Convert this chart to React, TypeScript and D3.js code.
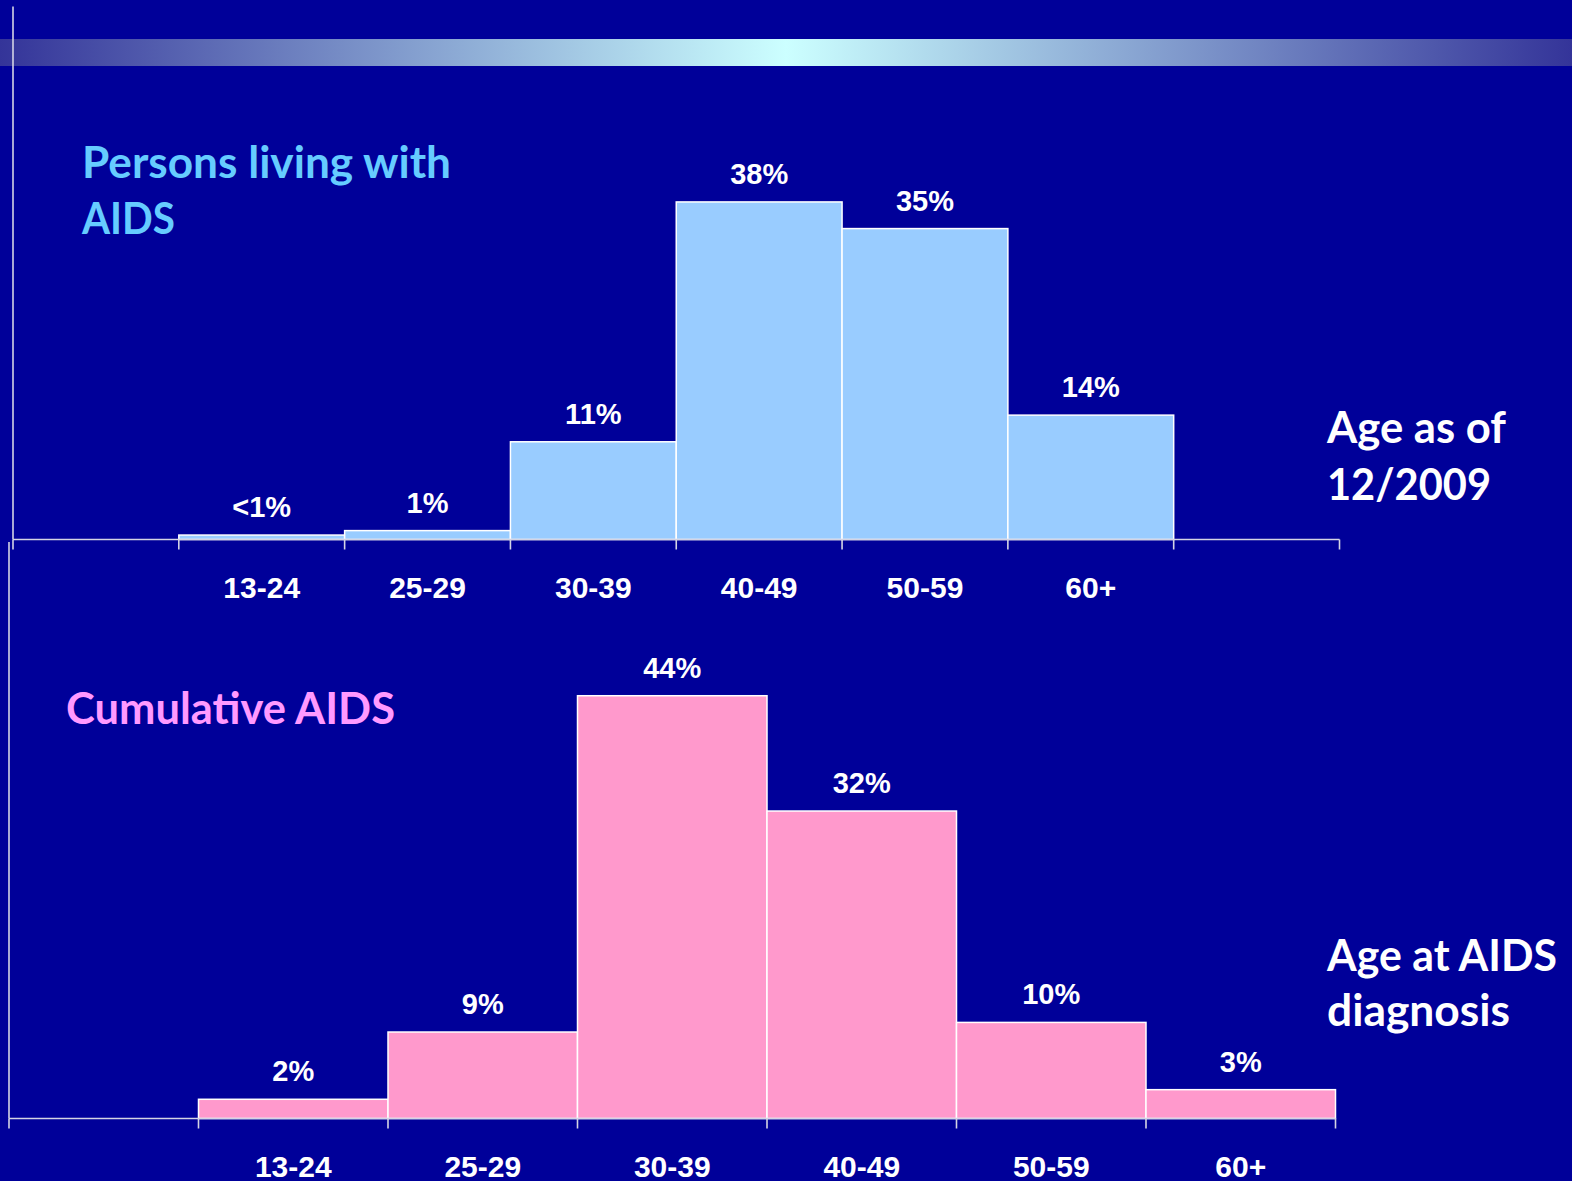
import React from 'react';
import { scaleBand, scaleLinear } from 'd3';

const ageGroups = ['13-24', '25-29', '30-39', '40-49', '50-59', '60+'];

// persons living with AIDS, age as of 12/2009
const livingValues = [0.5, 1, 11, 38, 35, 14];
const livingLabels = ['<1%', '1%', '11%', '38%', '35%', '14%'];

// cumulative AIDS, age at diagnosis
const cumulativeValues = [2, 9, 44, 32, 10, 3];
const cumulativeLabels = ['2%', '9%', '44%', '32%', '10%', '3%'];

const W = 1572;
const H = 1181;

const BG = '#000099';
const AXIS = '#d4d4e4';
const calibri = 'Lato, Carlito, Calibri, "Open Sans", sans-serif';
const arial = '"Liberation Sans", Arial, Helvetica, sans-serif';

type PanelProps = {
  values: number[]
  labels: string[]
  bands: string[]
  x0: number
  x1: number
  base: number
  top: number
  fill: string
}

function Panel({ values, labels, bands, x0, x1, base, top, fill }: PanelProps) {
  const x = scaleBand().domain(bands).range([x0, x1]).paddingInner(0).paddingOuter(0);
  const y = scaleLinear().domain([0, 60]).range([base, top]);
  const edges = [...bands.map(b => x(b)!), x1];
  return (
    <g>
      {ageGroups.map((g, i) => (
        <rect
          key={g}
          x={x(g)!}
          y={y(values[i])}
          width={x.bandwidth()}
          height={base - y(values[i])}
          fill={fill}
          stroke="#ffffff"
          strokeWidth={1.5}
        />
      ))}
      <line x1={x0} x2={x1} y1={base} y2={base} stroke={AXIS} strokeWidth={1.6} />
      <line x1={x0} x2={x0} y1={top} y2={base} stroke={AXIS} strokeWidth={1.6} />
      {edges.map((e, i) => (
        <line key={i} x1={e} x2={e} y1={base} y2={base + 10} stroke={AXIS} strokeWidth={1.6} />
      ))}
      {ageGroups.map((g, i) => (
        <text
          key={'v' + g}
          x={x(g)! + x.bandwidth() / 2}
          y={y(values[i]) - 18}
          textAnchor="middle"
          fontFamily={arial}
          fontWeight="bold"
          fontSize={29}
          fill="#ffffff"
        >
          {labels[i]}
        </text>
      ))}
      {ageGroups.map(g => (
        <text
          key={'c' + g}
          x={x(g)! + x.bandwidth() / 2}
          y={base + 58}
          textAnchor="middle"
          fontFamily={arial}
          fontWeight="bold"
          fontSize={30}
          fill="#ffffff"
        >
          {g}
        </text>
      ))}
    </g>
  );
}

function App() {
  return (
    <svg
      width={W}
      height={H}
      viewBox={`0 0 ${W} ${H}`}
      style={{ position: 'absolute', left: 0, top: 0, display: 'block' }}
    >
      <defs>
        <linearGradient id="band" x1="0" x2="1" y1="0" y2="0">
          <stop offset="0" stopColor="#343499" />
          <stop offset="0.5" stopColor="#ccffff" />
          <stop offset="1" stopColor="#343499" />
        </linearGradient>
      </defs>
      <rect width={W} height={H} fill={BG} />
      <rect x={0} y={39} width={W} height={27} fill="url(#band)" />

      <Panel
        values={livingValues}
        labels={livingLabels}
        bands={['_l', ...ageGroups, '_r']}
        x0={13}
        x1={1339.5}
        base={539.5}
        top={6.5}
        fill="#99ccff"
      />
      <Panel
        values={cumulativeValues}
        labels={cumulativeLabels}
        bands={['_l', ...ageGroups]}
        x0={9}
        x1={1335.5}
        base={1118.5}
        top={542}
        fill="#ff99cc"
      />

      <g fontFamily={calibri} fontWeight="bold" fontSize={43}>
        <text x={82} y={178} fill="#66ccff" textLength={369} lengthAdjust="spacingAndGlyphs">Persons living with</text>
        <text x={82} y={234} fill="#66ccff" textLength={93} lengthAdjust="spacingAndGlyphs">AIDS</text>
        <text x={66} y={724} fill="#ff99ff" textLength={329} lengthAdjust="spacingAndGlyphs">Cumulative AIDS</text>
        <text x={1327} y={443} fill="#ffffff" textLength={179} lengthAdjust="spacingAndGlyphs">Age as of</text>
        <text x={1327} y={500} fill="#ffffff" textLength={164} lengthAdjust="spacingAndGlyphs">12/2009</text>
        <text x={1327} y={971} fill="#ffffff" textLength={230} lengthAdjust="spacingAndGlyphs">Age at AIDS</text>
        <text x={1327} y={1026} fill="#ffffff" textLength={183} lengthAdjust="spacingAndGlyphs">diagnosis</text>
      </g>
    </svg>
  );
}

export default App;
